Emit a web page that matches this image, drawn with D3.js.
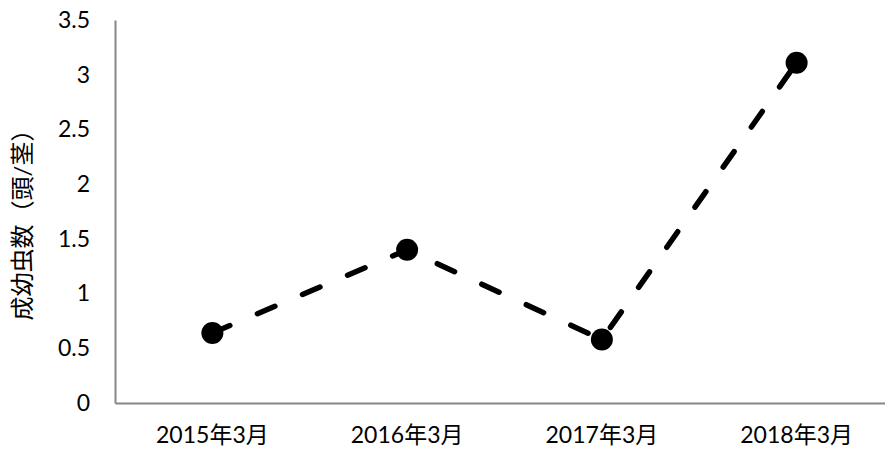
<!DOCTYPE html>
<html>
<head>
<meta charset="utf-8">
<script src="https://cdn.jsdelivr.net/npm/d3@7"></script>
<style>
  body { margin: 0; background: #fff; }
  text { font-family: Lato, "Noto Sans CJK JP", sans-serif; fill: #000; }
</style>
</head>
<body>
<div id="chart"></div>
<script>
const categories = ["2015年3月", "2016年3月", "2017年3月", "2018年3月"];
const values = [0.64, 1.40, 0.58, 3.11];
const yTicks = [0, 0.5, 1, 1.5, 2, 2.5, 3, 3.5];
const yLabel = "成幼虫数（頭/茎）";

const width = 885,
      height = 452,
      margin = ({ top: 20, right: -9, bottom: 49, left: 115 });

let svg = d3.select("#chart")
    .append("svg")
    .attr("width", width)
    .attr("height", height);

let x = d3.scaleBand()
    .domain(categories)
    .range([margin.left, width - margin.right]);

let y = d3.scaleLinear()
    .domain([0, 3.5])
    .range([height - margin.bottom, margin.top]);

// y axis: line only, labels right aligned
let yAxis = svg.append("g")
    .attr("transform", `translate(${margin.left},0)`)
    .call(d3.axisLeft(y).tickValues(yTicks).tickSize(0).tickPadding(25).tickFormat(d3.format("")));
yAxis.select(".domain").attr("stroke", "#868686").attr("stroke-width", 2);
yAxis.selectAll("text").style("font-size", "23px");

let xAxis = svg.append("g")
    .attr("transform", `translate(0,${height - margin.bottom})`)
    .call(d3.axisBottom(x).tickSize(0).tickPadding(24));
xAxis.select(".domain").attr("stroke", "#868686").attr("stroke-width", 2);
xAxis.selectAll("text").style("font-size", "23px");

let line = d3.line()
    .x((d, i) => x(categories[i]) + x.bandwidth() / 2)
    .y(d => y(d));

svg.append("path")
    .datum(values)
    .attr("fill", "none")
    .attr("stroke", "#000")
    .attr("stroke-width", 5.5)
    .attr("stroke-linecap", "round")
    .attr("stroke-dasharray", "19 30")
    .attr("d", line);

svg.selectAll(".dot")
    .data(values)
    .join("circle")
    .attr("class", "dot")
    .attr("cx", (d, i) => x(categories[i]) + x.bandwidth() / 2)
    .attr("cy", d => y(d))
    .attr("r", 11)
    .attr("fill", "#000");

svg.append("text")
    .attr("transform", "rotate(-90)")
    .attr("x", -219)
    .attr("y", 31)
    .attr("text-anchor", "middle")
    .style("font-size", "24px")
    .text(yLabel);
</script>
</body>
</html>
